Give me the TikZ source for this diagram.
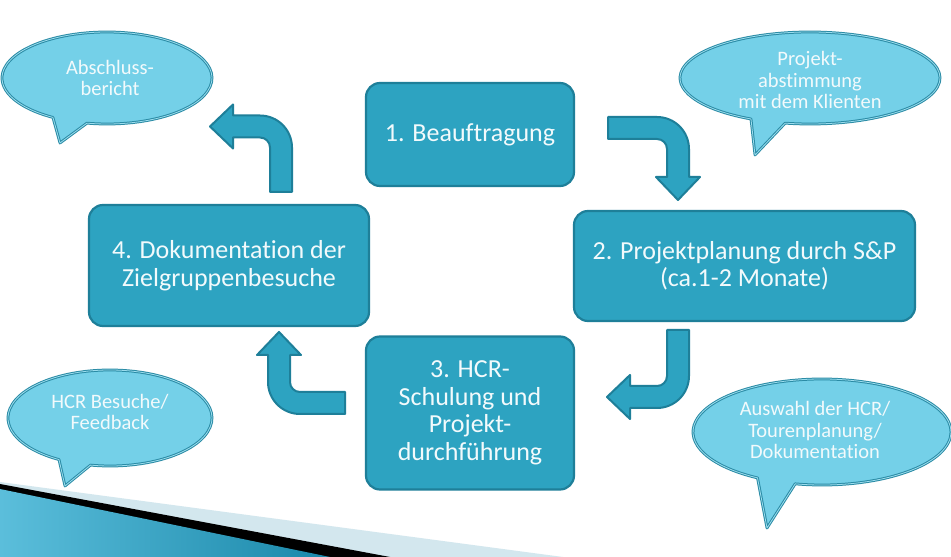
\documentclass[tikz,border=0pt]{standalone}
\usepackage{fontspec}
\setmainfont{Carlito}[Ligatures={NoCommon}]
\definecolor{boxfill}{HTML}{2DA3C1}
\definecolor{boxline}{HTML}{1E7F99}
\definecolor{bubfill}{HTML}{74D0E8}
\definecolor{bubline}{HTML}{2A8BA5}
\definecolor{bubdbl}{HTML}{9BDDEE}
\definecolor{txtw}{HTML}{F2FAFC}
\definecolor{bandlight}{HTML}{D3E7EE}
\definecolor{bandblueL}{HTML}{5BBEDB}
\definecolor{bandblueR}{HTML}{1A88AA}
\tikzset{
  stepbox/.style={rectangle, rounded corners=14pt, fill=boxfill, draw=boxline,
    line width=2.2pt, text=txtw, font=\fontsize{26}{27.5}\selectfont, align=center, inner sep=0pt},
  bubble/.style={fill=bubfill, draw=bubline, line width=1pt, double=bubdbl, double distance=0.8pt, line join=round},
  bubtext/.style={text=txtw, font=\fontsize{20.5}{21.5}\selectfont, align=center},
  arrowshape/.style={fill=boxfill, draw=boxline, line width=2pt, line join=round},
  pics/bentarrow/.style 2 args={code={
    \path[arrowshape] (-11,0) -- (11,0) -- (11,#1+11-32) arc[start angle=0,end angle=90,radius=32]
      -- (-#2+23,#1+11) -- (-#2+23,#1+22) -- (-#2,#1) -- (-#2+23,#1-22) -- (-#2+23,#1-11)
      -- (-21,#1-11) arc[start angle=90,end angle=0,radius=10] -- cycle;
  }}
}
\begin{document}
\begin{tikzpicture}[x=1pt,y=1pt]
\useasboundingbox (0,0) rectangle (951,557);
\fill[white] (0,0) rectangle (951,557);
% bottom band
\fill[bandlight] (0,75) -- (563,0) -- (0,0) -- cycle;
\fill[black] (0,73) -- (390,0) -- (0,0) -- cycle;
\shade[left color=bandblueL, right color=bandblueR] (0,68) -- (330,0) -- (0,0) -- cycle;
% boxes
\node[stepbox, minimum width=208pt, minimum height=103pt] (b1) at (470,422.5) {1. Beauftragung};
\node[stepbox, minimum width=341pt, minimum height=110pt] (b2) at (744.5,291) {2. Projektplanung durch S\&P\\(ca.1-2 Monate)};
\node[stepbox, minimum width=208pt, minimum height=153pt] (b3) at (470,144) {3. HCR-\\Schulung und\\Projekt-\\durchführung};
\node[stepbox, minimum width=280pt, minimum height=121pt] (b4) at (229,291.5) {4. Dokumentation der\\Zielgruppenbesuche};
% bent arrows
\pic at (281,365) {bentarrow={65.5}{71}};
\pic[rotate=-90, xscale=-1] at (608,429) {bentarrow={70}{72}};
\pic[yscale=-1] at (678,227) {bentarrow={67}{71}};
\pic[rotate=90, xscale=-1] at (345,154) {bentarrow={66}{71}};
% bubbles
\draw[bubble, shift={(107,479)}] (259:105 and 46) arc[start angle=259, end angle=599, x radius=105, y radius=46] -- (-47,-65) -- cycle;
\node[bubtext] (t1) at (110,479) {Abschluss-\\bericht};
\draw[bubble, shift={(810,479)}] (259:130 and 46) arc[start angle=259, end angle=603, x radius=130, y radius=46] -- (-55,-77) -- cycle;
\node[bubtext] (t2) at (810,477) {Projekt-\\abstimmung\\mit dem Klienten};
\draw[bubble, shift={(110,139)}] (259:102 and 48) arc[start angle=259, end angle=600, x radius=102, y radius=48] -- (-45,-68) -- cycle;
\node[bubtext] (t3) at (110,145) {HCR Besuche/\\Feedback};
\draw[bubble, shift={(822,125)}] (258:129 and 53) arc[start angle=258, end angle=600, x radius=129, y radius=53] -- (-55,-96) -- cycle;
\node[bubtext] (t4) at (815,127) {Auswahl der HCR/\\Tourenplanung/\\Dokumentation};
\end{tikzpicture}
\end{document}
